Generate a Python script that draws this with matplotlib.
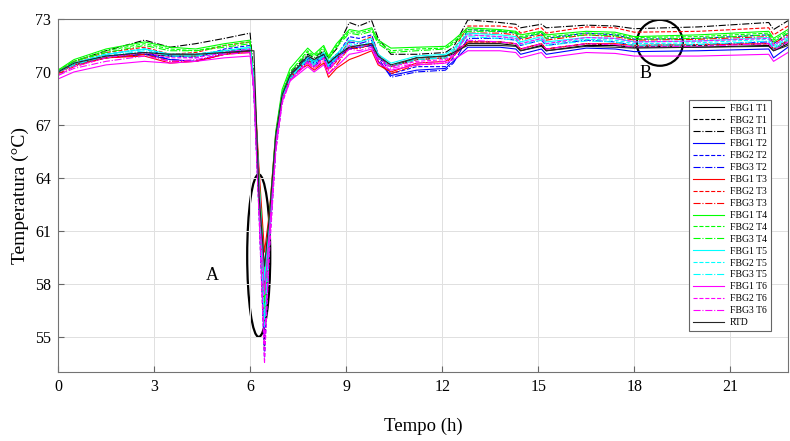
import matplotlib
matplotlib.use("Agg")
import matplotlib.pyplot as plt
from matplotlib.patches import Ellipse

plt.rcParams['font.family'] = ['Liberation Serif', 'DejaVu Serif']

# tempo (h) dos pontos
tempo = [0, 0.5, 1.5, 2.7, 3.5, 4.3, 5.2, 6.0,
         6.12, 6.28, 6.45, 6.6, 6.8, 7.0, 7.25,
         7.8, 8.0, 8.3, 8.45, 8.7,
         9.1, 9.4, 9.8, 10.0, 10.4,
         11.2, 12.1, 12.35, 12.8,
         13.8, 14.3, 14.45, 15.1, 15.25, 16.5, 17.4, 18.0, 20.0, 22.2, 22.35, 22.8]

fbg1_t1 = [70.0, 70.4, 70.8, 71.0, 70.9, 70.9, 71.1, 71.2,
           69.5, 64.0, 58.5, 61.5, 66.2, 68.6, 69.8,
           70.8, 70.6, 71.0, 70.5, 70.9,
           71.3, 71.4, 71.5, 70.8, 70.3,
           70.8, 70.9, 71.0, 71.6,
           71.6, 71.5, 71.2, 71.5, 71.2, 71.5, 71.5, 71.4, 71.4, 71.5, 71.2, 71.6]
fbg2_t1 = [70.0, 70.5, 70.9, 71.1, 71.0, 71.0, 71.2, 71.3,
           69.0, 62.5, 54.3, 60.5, 65.8, 68.4, 69.7,
           70.9, 70.7, 71.1, 70.6, 71.0,
           71.4, 71.5, 71.6, 70.9, 70.3,
           70.7, 70.8, 71.1, 71.7,
           71.7, 71.6, 71.3, 71.6, 71.3, 71.6, 71.5, 71.4, 71.5, 71.6, 71.3, 71.7]
fbg3_t1 = [70.0, 70.6, 71.2, 71.8, 71.4, 71.6, 71.9, 72.2,
           69.8, 63.5, 55.5, 60.8, 66.0, 68.6, 69.9,
           71.0, 70.8, 71.2, 70.8, 71.3,
           72.8, 72.6, 72.9, 71.9, 71.0,
           71.0, 71.1, 71.4, 72.95,
           72.8, 72.7, 72.5, 72.7, 72.5, 72.65, 72.6, 72.45, 72.55, 72.8, 72.4, 72.9]
fbg1_t2 = [70.0, 70.4, 70.8, 71.0, 70.7, 70.6, 71.0, 71.2,
           69.3, 63.0, 57.8, 61.0, 66.0, 68.5, 69.7,
           70.7, 70.4, 70.9, 70.3, 70.8,
           71.3, 71.4, 71.5, 70.6, 69.8,
           70.1, 70.2, 70.6, 71.4,
           71.4, 71.3, 71.0, 71.3, 71.0, 71.35, 71.3, 71.15, 71.2, 71.3, 70.8, 71.4]
fbg2_t2 = [70.0, 70.5, 71.0, 71.3, 70.9, 70.8, 71.3, 71.5,
           68.8, 62.0, 53.8, 60.0, 65.6, 68.3, 69.6,
           70.8, 70.5, 71.0, 70.4, 70.9,
           72.0, 71.9, 72.1, 71.0, 69.9,
           70.3, 70.3, 70.8, 72.4,
           72.3, 72.2, 71.9, 72.2, 71.9, 72.2, 72.1, 71.85, 71.9, 72.1, 71.6, 72.2]
fbg3_t2 = [70.0, 70.4, 70.9, 71.1, 70.7, 70.6, 71.1, 71.3,
           69.0, 62.8, 55.0, 60.3, 65.7, 68.4, 69.6,
           70.6, 70.3, 70.8, 70.2, 70.7,
           71.7, 71.6, 71.8, 70.8, 69.7,
           70.0, 70.1, 70.5, 71.9,
           71.9, 71.8, 71.5, 71.8, 71.5, 71.8, 71.7, 71.5, 71.55, 71.7, 71.3, 71.8]
fbg1_t3 = [70.0, 70.4, 70.8, 70.9, 70.5, 70.6, 71.0, 71.1,
           69.6, 64.5, 59.8, 62.0, 66.5, 68.8, 69.8,
           70.4, 70.1, 70.5, 69.7, 70.2,
           70.7, 70.9, 71.2, 70.4, 70.0,
           70.5, 70.6, 70.9, 71.7,
           71.7, 71.6, 71.3, 71.6, 71.3, 71.6, 71.6, 71.5, 71.55, 71.6, 71.3, 71.8]
fbg2_t3 = [70.0, 70.6, 71.1, 71.4, 71.0, 71.1, 71.5, 71.7,
           69.2, 63.2, 56.8, 61.0, 66.0, 68.5, 69.7,
           70.7, 70.4, 70.8, 70.1, 70.6,
           71.8, 71.7, 72.0, 71.0, 70.3,
           70.7, 70.8, 71.2, 72.6,
           72.6, 72.5, 72.2, 72.5, 72.2, 72.55, 72.5, 72.25, 72.3, 72.5, 72.1, 72.6]
fbg3_t3 = [69.9, 70.3, 70.8, 71.0, 70.6, 70.6, 71.0, 71.2,
           69.0, 62.6, 56.0, 60.6, 65.9, 68.4, 69.6,
           70.5, 70.2, 70.6, 69.9, 70.4,
           71.4, 71.3, 71.6, 70.6, 69.9,
           70.4, 70.5, 70.9, 72.2,
           72.2, 72.1, 71.8, 72.1, 71.8, 72.1, 72.0, 71.8, 71.85, 72.0, 71.6, 72.1]
fbg1_t4 = [70.1, 70.7, 71.3, 71.7, 71.4, 71.3, 71.6, 71.8,
           69.5, 64.0, 58.6, 61.8, 66.6, 69.0, 70.2,
           71.35, 71.0, 71.5, 70.9, 71.6,
           72.4, 72.3, 72.5, 71.8, 71.35,
           71.4, 71.45, 71.8, 72.5,
           72.4, 72.3, 72.1, 72.3, 72.1, 72.3, 72.25, 72.0, 72.1, 72.3, 71.9, 72.4]
fbg2_t4 = [70.1, 70.6, 71.2, 71.6, 71.3, 71.2, 71.5, 71.7,
           69.1, 63.0, 56.4, 60.8, 66.2, 68.8, 70.0,
           71.2, 70.9, 71.4, 70.8, 71.5,
           72.3, 72.2, 72.4, 71.7, 71.2,
           71.3, 71.35, 71.7, 72.4,
           72.35, 72.25, 72.0, 72.25, 72.0, 72.2, 72.15, 71.95, 72.0, 72.2, 71.8, 72.3]
fbg3_t4 = [70.0, 70.6, 71.1, 71.5, 71.2, 71.2, 71.4, 71.6,
           69.2, 63.4, 57.2, 61.2, 66.3, 68.8, 70.0,
           71.1, 70.8, 71.3, 70.7, 71.4,
           72.2, 72.1, 72.3, 71.6, 71.1,
           71.2, 71.3, 71.6, 72.3,
           72.3, 72.2, 71.9, 72.2, 71.9, 72.1, 72.05, 71.85, 71.9, 72.1, 71.7, 72.2]
fbg1_t5 = [70.0, 70.5, 71.0, 71.3, 71.0, 71.0, 71.2, 71.4,
           69.6, 63.8, 58.2, 61.4, 66.3, 68.7, 69.8,
           70.9, 70.6, 71.1, 70.6, 71.0,
           71.8, 71.7, 71.9, 71.0, 70.5,
           70.9, 71.0, 71.3, 72.2,
           72.1, 72.0, 71.7, 72.0, 71.7, 71.95, 71.9, 71.7, 71.75, 71.95, 71.5, 72.0]
fbg2_t5 = [70.0, 70.5, 71.0, 71.3, 71.0, 71.0, 71.2, 71.4,
           69.0, 62.6, 56.0, 60.4, 65.8, 68.4, 69.6,
           70.8, 70.5, 71.0, 70.4, 70.9,
           71.6, 71.5, 71.7, 70.9, 70.4,
           70.8, 70.9, 71.2, 72.1,
           72.0, 71.9, 71.6, 71.9, 71.6, 71.85, 71.8, 71.6, 71.65, 71.85, 71.4, 71.9]
fbg3_t5 = [70.0, 70.4, 70.9, 71.2, 70.9, 70.9, 71.1, 71.3,
           69.2, 62.9, 55.6, 60.5, 65.9, 68.5, 69.7,
           70.7, 70.4, 70.9, 70.3, 70.8,
           71.5, 71.4, 71.6, 70.8, 70.3,
           70.7, 70.8, 71.1, 72.0,
           71.9, 71.8, 71.5, 71.8, 71.5, 71.75, 71.7, 71.5, 71.55, 71.75, 71.3, 71.8]
fbg1_t6 = [69.6, 70.0, 70.4, 70.6, 70.5, 70.6, 70.8, 70.9,
           69.3, 63.5, 57.4, 60.9, 66.0, 68.4, 69.5,
           70.3, 70.0, 70.4, 69.9, 70.3,
           71.0, 71.1, 71.3, 70.5, 70.1,
           70.4, 70.5, 70.7, 71.2,
           71.2, 71.1, 70.8, 71.1, 70.8, 71.1, 71.05, 70.9, 70.9, 71.0, 70.6, 71.1]
fbg2_t6 = [69.8, 70.3, 70.8, 71.1, 70.8, 70.8, 71.1, 71.3,
           68.7, 61.8, 53.5, 59.6, 65.4, 68.2, 69.5,
           70.6, 70.3, 70.8, 70.2, 70.7,
           71.5, 71.4, 71.6, 70.8, 70.3,
           70.6, 70.7, 71.0, 72.1,
           72.0, 71.9, 71.6, 71.9, 71.6, 71.95, 71.9, 71.7, 71.75, 71.9, 71.5, 72.0]
fbg3_t6 = [69.8, 70.2, 70.6, 70.9, 70.6, 70.7, 71.0, 71.1,
           68.9, 62.2, 54.6, 60.1, 65.6, 68.3, 69.5,
           70.5, 70.2, 70.7, 70.1, 70.6,
           71.3, 71.2, 71.4, 70.7, 70.2,
           70.5, 70.6, 70.9, 71.8,
           71.7, 71.6, 71.3, 71.6, 71.3, 71.6, 71.55, 71.4, 71.45, 71.6, 71.2, 71.7]
rtd = [70.0, 70.5, 70.9, 71.1, 71.0, 71.0, 71.1, 71.2,
       71.2, 63.0, 59.0, 61.8, 66.4, 68.7, 69.8,
       70.9, 70.7, 71.0, 70.5, 70.9,
       71.4, 71.5, 71.6, 70.9, 70.4,
       70.8, 70.9, 71.1, 71.5,
       71.5, 71.45, 71.2, 71.45, 71.2, 71.45, 71.4, 71.35, 71.4, 71.45, 71.2, 71.5]

series = [
    ('FBG1 T1', fbg1_t1, 'k', '-'), ('FBG2 T1', fbg2_t1, 'k', '--'), ('FBG3 T1', fbg3_t1, 'k', '-.'),
    ('FBG1 T2', fbg1_t2, 'b', '-'), ('FBG2 T2', fbg2_t2, 'b', '--'), ('FBG3 T2', fbg3_t2, 'b', '-.'),
    ('FBG1 T3', fbg1_t3, 'r', '-'), ('FBG2 T3', fbg2_t3, 'r', '--'), ('FBG3 T3', fbg3_t3, 'r', '-.'),
    ('FBG1 T4', fbg1_t4, 'lime', '-'), ('FBG2 T4', fbg2_t4, 'lime', '--'), ('FBG3 T4', fbg3_t4, 'lime', '-.'),
    ('FBG1 T5', fbg1_t5, 'cyan', '-'), ('FBG2 T5', fbg2_t5, 'cyan', '--'), ('FBG3 T5', fbg3_t5, 'cyan', '-.'),
    ('FBG1 T6', fbg1_t6, 'magenta', '-'), ('FBG2 T6', fbg2_t6, 'magenta', '--'), ('FBG3 T6', fbg3_t6, 'magenta', '-.'),
    ('RTD', rtd, '0.15', '-'),
]

fig = plt.figure(figsize=(7.9, 4.41), dpi=100)
ax = fig.add_axes([0.0734, 0.156, 0.924, 0.801])

for nome, valores, cor, estilo in series:
    ax.plot(tempo, valores, color=cor, linestyle=estilo, linewidth=0.8, label=nome)

ax.set_xlim(0, 22.8)
ax.set_ylim(53, 73)
ax.set_xticks([0, 3, 6, 9, 12, 15, 18, 21])
ax.set_yticks([55, 58, 61, 64, 67, 70, 73])
ax.tick_params(direction='in', labelsize=11.5, length=4, color='0.4', pad=5)
ax.grid(True, color='0.88', linewidth=0.7)
for s in ax.spines.values():
    s.set_color('0.45')
    s.set_linewidth(0.8)

ax.set_xlabel('Tempo (h)', fontsize=13.5, labelpad=16)
ax.set_ylabel('Temperatura (°C)', fontsize=14, labelpad=4)

# marcações A e B
ax.add_patch(Ellipse((6.27, 59.6), 0.72, 9.2, fill=False, edgecolor='k', linewidth=1.6))
ax.text(4.81, 58.45, 'A', fontsize=13, ha='center', va='center')
ax.add_patch(Ellipse((18.8, 71.65), 1.44, 2.6, fill=False, edgecolor='k', linewidth=1.6))
ax.text(18.34, 69.9, 'B', fontsize=13, ha='center', va='center')

leg = ax.legend(loc='upper right', bbox_to_anchor=(0.983, 0.785), fontsize=7,
                fancybox=False, edgecolor='0.4', framealpha=1, handlelength=3.2,
                labelspacing=0.3, borderpad=0.4, handletextpad=0.6)
leg.get_frame().set_linewidth(0.8)

plt.savefig('out.png', dpi=100)
